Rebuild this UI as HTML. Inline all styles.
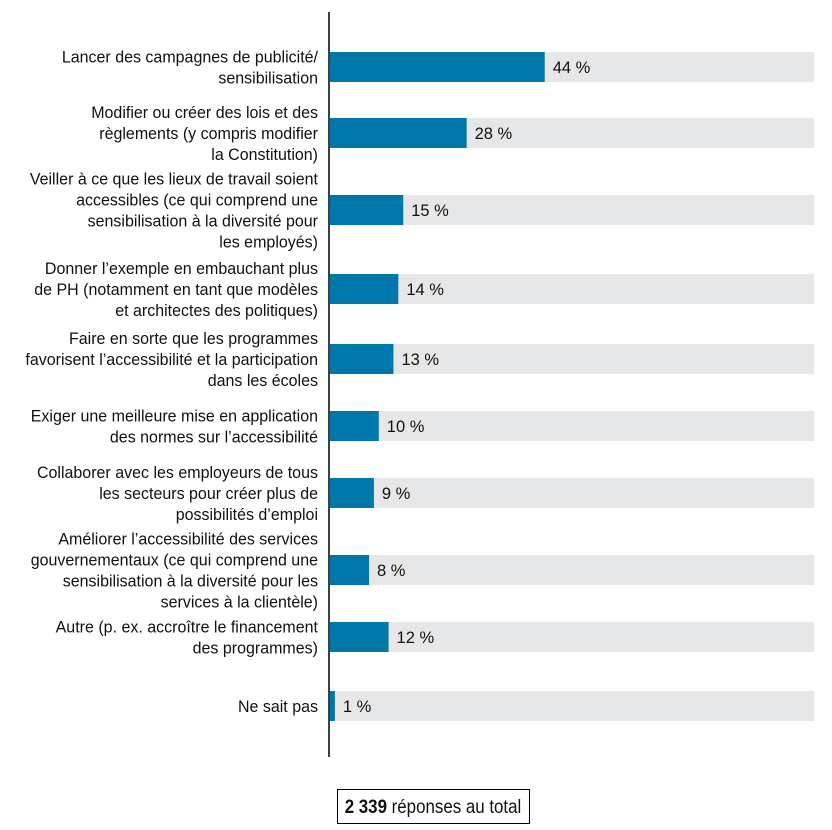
<!DOCTYPE html>
<html><head><meta charset="utf-8"><style>
html,body{margin:0;padding:0;background:#fff;}
svg{display:block;}
text{font-family:"Liberation Sans Narrow","Liberation Sans",sans-serif;font-size:16.5px;fill:#111;}
</style></head><body>
<svg id="chart" width="832" height="830" viewBox="0 0 832 830" xmlns="http://www.w3.org/2000/svg">
<g id="bars"></g>
<line x1="329" y1="12" x2="329" y2="757" stroke="#000" stroke-width="1.5"/>
<rect x="337.5" y="789.5" width="192" height="34" fill="#fff" stroke="#000" stroke-width="1"/>
<text x="433" y="813" text-anchor="middle" transform="translate(433,0) scale(0.89,1) translate(-433,0)" style="font-size:19px"><tspan font-weight="bold">2 339</tspan> réponses au total</text>
</svg>
<script>
const categories = [
 ["Lancer des campagnes de publicité/","sensibilisation"],
 ["Modifier ou créer des lois et des","règlements (y compris modifier","la Constitution)"],
 ["Veiller à ce que les lieux de travail soient","accessibles (ce qui comprend une","sensibilisation à la diversité pour","les employés)"],
 ["Donner l’exemple en embauchant plus","de PH (notamment en tant que modèles","et architectes des politiques)"],
 ["Faire en sorte que les programmes","favorisent l’accessibilité et la participation","dans les écoles"],
 ["Exiger une meilleure mise en application","des normes sur l’accessibilité"],
 ["Collaborer avec les employeurs de tous","les secteurs pour créer plus de","possibilités d’emploi"],
 ["Améliorer l’accessibilité des services","gouvernementaux (ce qui comprend une","sensibilisation à la diversité pour les","services à la clientèle)"],
 ["Autre (p. ex. accroître le financement","des programmes)"],
 ["Ne sait pas"]
];
const values = [44,28,15,14,13,10,9,8,12,1];
const valueLabels = ["44 %","28 %","15 %","14 %","13 %","10 %","9 %","8 %","12 %","1 %"];
const rowCenters = [67,133,210,289,359,426,493,570,637,706];

const x0 = 330, pxPerPct = 4.88, xEnd = 814, barH = 30, lineH = 21, sx = 0.97;
function xScale(v){ return x0 + v * pxPerPct; }
const NS = "http://www.w3.org/2000/svg";
const g = document.getElementById("bars");
values.forEach((v,i)=>{
  const cy = rowCenters[i];
  const bg = document.createElementNS(NS,"rect");
  
  
  bg.setAttribute("x",x0); bg.setAttribute("y",cy-barH/2);
  bg.setAttribute("width",xEnd-x0); bg.setAttribute("height",barH);
  bg.setAttribute("fill","#e6e7e8");
  g.appendChild(bg);
  const b = document.createElementNS(NS,"rect");
  
  
  b.setAttribute("x",x0); b.setAttribute("y",cy-barH/2);
  b.setAttribute("width",xScale(v)-x0); b.setAttribute("height",barH);
  b.setAttribute("fill","#0077aa");
  g.appendChild(b);
  const t = document.createElementNS(NS,"text");
  
  
  t.setAttribute("x",xScale(v)+8); t.setAttribute("y",cy+6);
  t.textContent = valueLabels[i];
  g.appendChild(t);
  const lines = categories[i];
  const lab = document.createElementNS(NS,"text");
  
  
  lab.setAttribute("text-anchor","end");
  lab.setAttribute("transform",`translate(318,0) scale(${sx},1) translate(-318,0)`);
  const startY = cy - (lines.length-1)*lineH/2 + 6;
  lines.forEach((ln,j)=>{
    const ts = document.createElementNS(NS,"tspan");
    ts.setAttribute("x",318); ts.setAttribute("y",startY + j*lineH);
    ts.textContent = ln;
    lab.appendChild(ts);
  });
  g.appendChild(lab);
});
</script>
</body></html>
